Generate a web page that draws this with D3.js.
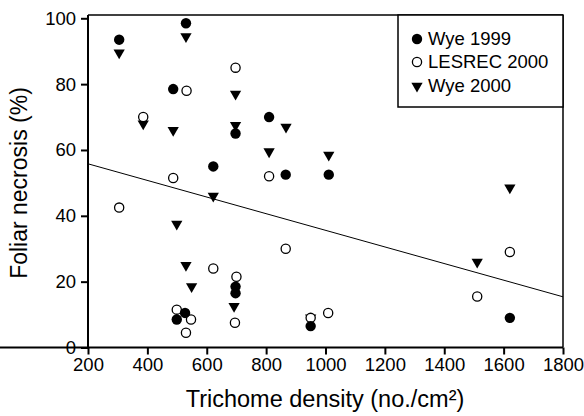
<!DOCTYPE html>
<html><head><meta charset="utf-8">
<script src="https://cdn.jsdelivr.net/npm/d3@7"></script>
<style>body{margin:0;background:#fff}svg{display:block}text{font-family:"Liberation Sans",Arial,Helvetica,sans-serif;fill:#000}</style>
</head><body><svg id="c" width="584" height="416"></svg>
<script>
const wye1999 = [[305,93.5],[530,98.5],[487,78.5],[697,65],[810,70],[622,55],[866,52.5],[1011,52.5],[697,18.5],[697,16.5],[499,8.5],[527,10.5],[950,6.5],[1621,9]];
const lesrec2000 = [[697,85],[532,78],[386,70],[487,51.5],[305,42.5],[810,52],[866,30],[1621,29],[1511,15.5],[622,24],[700,21.5],[695,7.5],[499,11.5],[547,8.5],[530,4.5],[950,9],[1009,10.5]];
const wye2000 = [[305,89.5],[530,94.5],[697,77],[386,68],[487,66],[697,67.5],[867,67],[622,46],[499,37.5],[810,59.5],[1011,58.5],[1621,48.5],[1511,26],[530,25],[549,18.5],[692,12.5],[950,9]];
const fitX = [200,1800];
const fitY = [55.8,15.4];
const xTicks = [200,400,600,800,1000,1200,1400,1600,1800];
const yTicks = [0,20,40,60,80,100];
const legendLabels = ["Wye 1999","LESREC 2000","Wye 2000"];

const svg = d3.select("#c");
const x = d3.scaleLinear().domain([200,1800]).range([88,563]);
const y = d3.scaleLinear().domain([0,101]).range([347.5,15]);

// frame top/right
svg.append("line").attr("x1",88).attr("x2",563).attr("y1",15).attr("y2",15).attr("stroke","#000").attr("stroke-width",1.5);
svg.append("line").attr("x1",563).attr("x2",563).attr("y1",15).attr("y2",347.5).attr("stroke","#000").attr("stroke-width",1.5);

const xa = svg.append("g").attr("transform","translate(0,347.5)")
  .call(d3.axisBottom(x).tickValues(xTicks).tickFormat(d3.format("d")).tickSize(7).tickPadding(3).tickSizeOuter(0));
const ya = svg.append("g").attr("transform","translate(88,0)")
  .call(d3.axisLeft(y).tickValues(yTicks).tickFormat(d3.format("d")).tickSize(7).tickPadding(5).tickSizeOuter(0));
[xa,ya].forEach(a=>{
  a.select(".domain").attr("stroke-width",2);
  a.selectAll(".tick line").attr("stroke-width",2);
  a.selectAll(".tick text").attr("font-size",18.5).attr("font-family","Liberation Sans, Arial, sans-serif");
});
ya.select(".domain").attr("d","M0,15V348.5");
xa.select(".domain").attr("d","M-1,0H563");

// regression line
svg.append("line").attr("x1",x(fitX[0])).attr("y1",y(fitY[0])).attr("x2",x(fitX[1])).attr("y2",y(fitY[1]))
  .attr("stroke","#000").attr("stroke-width",1);

const tri = d3.symbol().type(d3.symbolTriangle).size(55);
function drawTri(g, data){
  g.selectAll("path.t").data(data).join("path").attr("class","t")
   .attr("d",tri).attr("transform",d=>`translate(${x(d[0])},${y(d[1])}) rotate(180)`).attr("fill","#000");
}
const g = svg.append("g");
drawTri(g.append("g"), wye2000);
g.append("g").selectAll("circle").data(lesrec2000).join("circle")
  .attr("cx",d=>x(d[0])).attr("cy",d=>y(d[1])).attr("r",4.6).attr("fill","#fff").attr("stroke","#000").attr("stroke-width",1.3);
g.append("g").selectAll("circle").data(wye1999).join("circle")
  .attr("cx",d=>x(d[0])).attr("cy",d=>y(d[1])).attr("r",5.2).attr("fill","#000");

// legend
svg.append("rect").attr("x",398).attr("y",15).attr("width",165).attr("height",92).attr("fill","#fff").attr("stroke","#000").attr("stroke-width",1.5);
const ly = [39,62,86];
svg.append("circle").attr("cx",417).attr("cy",ly[0]).attr("r",5.2).attr("fill","#000");
svg.append("circle").attr("cx",417).attr("cy",ly[1]).attr("r",4.6).attr("fill","#fff").attr("stroke","#000").attr("stroke-width",1.3);
svg.append("path").attr("d",tri).attr("transform",`translate(417,${ly[2]}) rotate(180)`).attr("fill","#000");
legendLabels.forEach((t,i)=>{
  svg.append("text").attr("x",428).attr("y",ly[i]).attr("dy","0.35em").attr("font-size",18.5).text(t);
});

// axis titles
svg.append("text").attr("x",325).attr("y",407).attr("text-anchor","middle").attr("font-size",23.5).text("Trichome density (no./cm²)");
svg.append("text").attr("transform","translate(27,183) rotate(-90)").attr("text-anchor","middle").attr("font-size",23).text("Foliar necrosis (%)");
</script></body></html>
